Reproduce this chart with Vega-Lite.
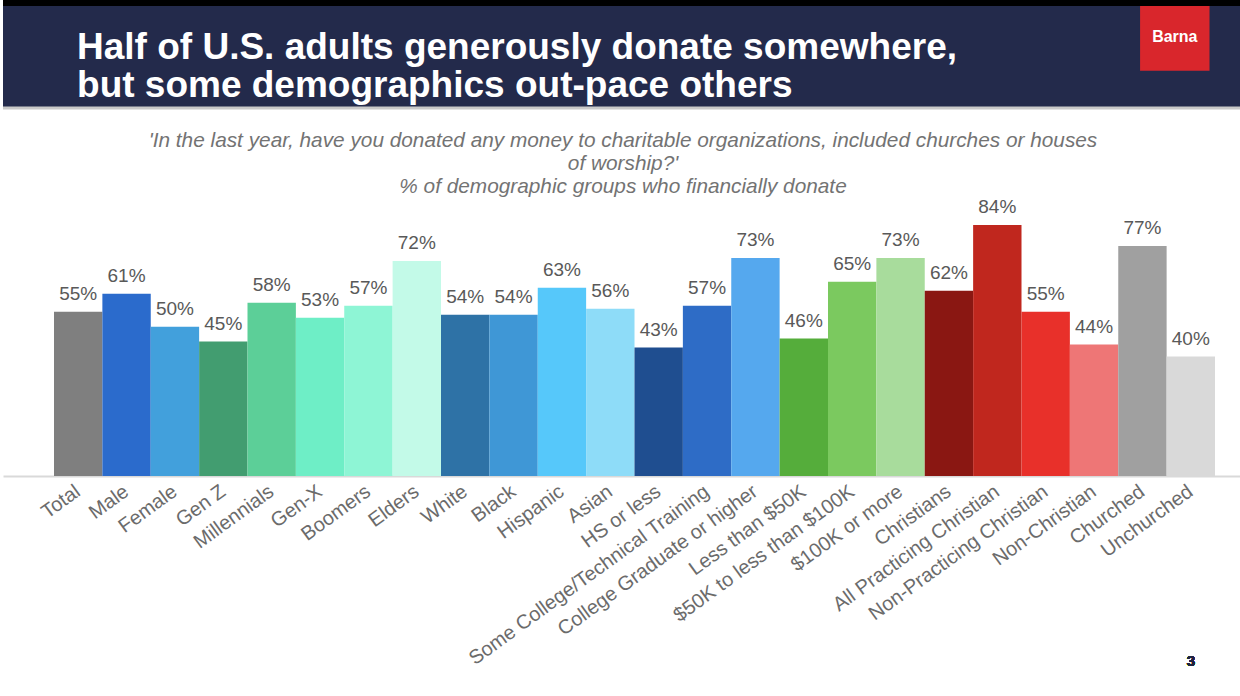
{
  "$schema": "https://vega.github.io/schema/vega-lite/v6.json",
  "padding": 0,
  "background": "#ffffff",
  "spacing": 20,
  "config": {"view": {"stroke": null}, "font": "Liberation Sans"},
  "vconcat": [
    {
      "width": 1240,
      "height": 105,
      "view": {"fill": "#232a4b", "stroke": null},
      "data": {"values": [{"brand": "Barna"}]},
      "layer": [
        {
          "mark": {"type": "rect", "color": "#d9262c"},
          "encoding": {
            "x": {"datum": 0.917, "type": "quantitative", "scale": {"domain": [0, 1], "nice": false, "zero": false}, "axis": null},
            "x2": {"datum": 0.973},
            "y": {"datum": 0.975, "type": "quantitative", "scale": {"domain": [0, 1], "nice": false, "zero": false}, "axis": null},
            "y2": {"datum": 0.355}
          }
        },
        {
          "mark": {"type": "text", "color": "#ffffff", "fontSize": 16, "fontWeight": "bold", "align": "center", "baseline": "middle"},
          "encoding": {
            "x": {"datum": 0.945, "type": "quantitative"},
            "y": {"datum": 0.675, "type": "quantitative"},
            "text": {"field": "brand"}
          }
        },
        {
          "mark": {"type": "text", "color": "#ffffff", "fontSize": 37, "fontWeight": "bold", "align": "left", "baseline": "alphabetic", "lineHeight": 38, "font": "Liberation Sans"},
          "encoding": {
            "x": {"datum": 0.0597, "type": "quantitative"},
            "y": {"datum": 0.467, "type": "quantitative"},
            "text": {"value": ["Half of U.S. adults generously donate somewhere,", "but some demographics out-pace others"]}
          }
        },
        {
          "mark": {"type": "rule", "color": "#c9c9c9", "strokeWidth": 3},
          "encoding": {"y": {"datum": 0, "type": "quantitative"}}
        },
        {
          "mark": {"type": "rule", "color": "#000000", "strokeWidth": 6},
          "encoding": {"y": {"datum": 1, "type": "quantitative"}}
        }
      ]
    },
    {
      "width": 1240,
      "height": 273,
      "title": {
        "text": ["'In the last year, have you donated any money to charitable organizations, included churches or houses", "of worship?'", "% of demographic groups who financially donate"],
        "fontSize": 20.8,
        "fontStyle": "italic",
        "fontWeight": "normal",
        "color": "#737373",
        "lineHeight": 23,
        "anchor": "middle",
        "offset": 0,
        "font": "Liberation Sans"
      },
      "data": {
        "values": [
          {"group": "Total", "pct": 0.55},
          {"group": "Male", "pct": 0.61},
          {"group": "Female", "pct": 0.50},
          {"group": "Gen Z", "pct": 0.45},
          {"group": "Millennials", "pct": 0.58},
          {"group": "Gen-X", "pct": 0.53},
          {"group": "Boomers", "pct": 0.57},
          {"group": "Elders", "pct": 0.72},
          {"group": "White", "pct": 0.54},
          {"group": "Black", "pct": 0.54},
          {"group": "Hispanic", "pct": 0.63},
          {"group": "Asian", "pct": 0.56},
          {"group": "HS or less", "pct": 0.43},
          {"group": "Some College/Technical Training", "pct": 0.57},
          {"group": "College Graduate or higher", "pct": 0.73},
          {"group": "Less than $50K", "pct": 0.46},
          {"group": "$50K to less than $100K", "pct": 0.65},
          {"group": "$100K or more", "pct": 0.73},
          {"group": "Christians", "pct": 0.62},
          {"group": "All Practicing Christian", "pct": 0.84},
          {"group": "Non-Practicing Christian", "pct": 0.55},
          {"group": "Non-Christian", "pct": 0.44},
          {"group": "Churched", "pct": 0.77},
          {"group": "Unchurched", "pct": 0.40}
        ]
      },
      "encoding": {
        "x": {
          "field": "group",
          "type": "nominal",
          "sort": null,
          "scale": {"paddingInner": 0, "paddingOuter": 0.8165, "align": 0.6456},
          "axis": {
            "title": null,
            "labelAngle": -36,
            "labelAlign": "right",
            "labelBaseline": "middle",
            "labelFontSize": 20,
            "labelColor": "#6b6b6b",
            "labelFont": "Liberation Sans",
            "labelPadding": 13,
            "labelLimit": 0,
            "labelOverlap": false,
            "ticks": false,
            "domainColor": "#d9d9d9",
            "domainWidth": 2
          }
        }
      },
      "layer": [
        {
          "mark": {"type": "bar"},
          "encoding": {
            "y": {"field": "pct", "type": "quantitative", "scale": {"domain": [0, 0.914], "nice": false}, "axis": null},
            "color": {
              "field": "group",
              "type": "nominal",
              "legend": null,
              "scale": {
                "domain": ["Total", "Male", "Female", "Gen Z", "Millennials", "Gen-X", "Boomers", "Elders", "White", "Black", "Hispanic", "Asian", "HS or less", "Some College/Technical Training", "College Graduate or higher", "Less than $50K", "$50K to less than $100K", "$100K or more", "Christians", "All Practicing Christian", "Non-Practicing Christian", "Non-Christian", "Churched", "Unchurched"],
                "range": ["#7f7f7f", "#2b6bcc", "#42a0dc", "#429d70", "#5ccf98", "#6eeec6", "#8ef5d5", "#c3fae8", "#2e72a6", "#3f97d6", "#56c8fa", "#8edcf8", "#1f4e90", "#2e6cc6", "#55a8ee", "#55ad3b", "#7bc95f", "#a8dc9c", "#8a1712", "#c0271e", "#e8302a", "#ee7676", "#a0a0a0", "#d9d9d9"]
              }
            }
          }
        },
        {
          "mark": {"type": "text", "align": "center", "baseline": "alphabetic", "dy": -12, "fontSize": 19, "color": "#595959", "font": "Liberation Sans"},
          "encoding": {
            "y": {"field": "pct", "type": "quantitative"},
            "text": {"field": "pct", "type": "quantitative", "format": ".0%"}
          }
        },
        {
          "mark": {"type": "text", "align": "center", "baseline": "middle", "fontSize": 15, "fontWeight": "bold", "color": "#1f2340", "font": "Liberation Sans"},
          "encoding": {
            "x": {"datum": "Unchurched", "type": "nominal"},
            "y": {"datum": -0.62, "type": "quantitative"},
            "text": {"value": "3"}
          }
        }
      ]
    }
  ]
}
